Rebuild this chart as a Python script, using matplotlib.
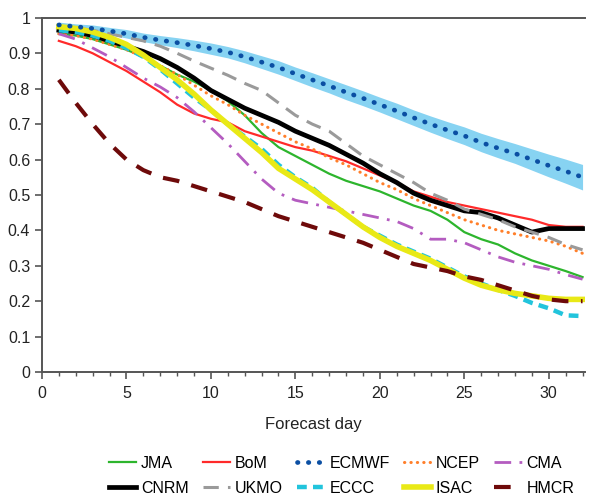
import matplotlib
matplotlib.use("Agg")
import matplotlib.pyplot as plt
import numpy as np
from matplotlib.ticker import MultipleLocator

plt.rcParams["font.family"] = ["Liberation Sans", "DejaVu Sans"]

days = np.arange(1, 33)

jma = [0.955, 0.95, 0.94, 0.925, 0.91, 0.89, 0.865, 0.84, 0.82, 0.795, 0.765, 0.725, 0.675, 0.635, 0.61, 0.585,
       0.56, 0.54, 0.525, 0.51, 0.49, 0.47, 0.455, 0.43, 0.395, 0.375, 0.36, 0.335, 0.315, 0.3, 0.285, 0.268]
bom = [0.935, 0.92, 0.9, 0.875, 0.85, 0.82, 0.79, 0.755, 0.73, 0.715, 0.705, 0.68, 0.665, 0.65, 0.635, 0.625,
       0.61, 0.595, 0.575, 0.555, 0.535, 0.51, 0.495, 0.48, 0.47, 0.46, 0.45, 0.44, 0.43, 0.415, 0.41, 0.41]
ecmwf = [0.98, 0.975, 0.97, 0.963, 0.955, 0.945, 0.937, 0.93, 0.922, 0.913, 0.903, 0.89, 0.875, 0.86, 0.842, 0.825,
         0.808, 0.79, 0.773, 0.755, 0.737, 0.718, 0.70, 0.683, 0.667, 0.648, 0.632, 0.617, 0.60, 0.583, 0.567, 0.55]
ecmwf_spread = [0.008, 0.008, 0.01, 0.01, 0.012, 0.012, 0.013, 0.014, 0.015, 0.016, 0.016, 0.017, 0.018, 0.019,
                0.019, 0.02, 0.02, 0.021, 0.021, 0.021, 0.022, 0.022, 0.023, 0.024, 0.025, 0.026, 0.027, 0.028,
                0.03, 0.032, 0.034, 0.036]
ncep = [0.955, 0.95, 0.94, 0.925, 0.91, 0.89, 0.865, 0.84, 0.81, 0.78, 0.755, 0.725, 0.7, 0.675, 0.65, 0.63,
        0.605, 0.585, 0.56, 0.535, 0.515, 0.49, 0.47, 0.45, 0.43, 0.415, 0.4, 0.39, 0.38, 0.37, 0.355, 0.335]
cma = [0.955, 0.94, 0.915, 0.89, 0.86, 0.83, 0.805, 0.775, 0.735, 0.69, 0.645, 0.595, 0.545, 0.505, 0.485, 0.475,
       0.465, 0.455, 0.445, 0.435, 0.425, 0.405, 0.375, 0.375, 0.365, 0.345, 0.325, 0.31, 0.3, 0.29, 0.275, 0.262]
cnrm = [0.965, 0.96, 0.95, 0.935, 0.92, 0.905, 0.885, 0.86, 0.83, 0.795, 0.77, 0.745, 0.725, 0.705, 0.68, 0.66,
        0.64, 0.615, 0.59, 0.56, 0.535, 0.505, 0.485, 0.47, 0.455, 0.45, 0.435, 0.415, 0.395, 0.405, 0.405, 0.405]
ukmo = [0.975, 0.972, 0.965, 0.955, 0.945, 0.935, 0.92, 0.9, 0.878, 0.858, 0.838, 0.815, 0.795, 0.76, 0.725, 0.7,
        0.68, 0.645, 0.61, 0.585, 0.56, 0.535, 0.505, 0.485, 0.46, 0.445, 0.43, 0.41, 0.395, 0.38, 0.36, 0.345]
eccc = [0.965, 0.96, 0.95, 0.935, 0.915, 0.89, 0.855, 0.815, 0.775, 0.74, 0.70, 0.665, 0.63, 0.585, 0.55, 0.52,
        0.48, 0.445, 0.41, 0.385, 0.36, 0.34, 0.32, 0.295, 0.27, 0.25, 0.232, 0.215, 0.195, 0.18, 0.16, 0.158]
isac = [0.975, 0.97, 0.96, 0.945, 0.925, 0.895, 0.86, 0.825, 0.785, 0.74, 0.70, 0.66, 0.62, 0.575, 0.545, 0.515,
        0.48, 0.445, 0.41, 0.38, 0.355, 0.335, 0.315, 0.29, 0.265, 0.245, 0.232, 0.222, 0.215, 0.208, 0.205, 0.205]
hmcr = [0.825, 0.76, 0.70, 0.645, 0.60, 0.57, 0.55, 0.54, 0.525, 0.51, 0.495, 0.48, 0.46, 0.44, 0.425, 0.41,
        0.395, 0.38, 0.365, 0.345, 0.325, 0.305, 0.295, 0.285, 0.27, 0.26, 0.245, 0.23, 0.215, 0.205, 0.2, 0.2]

fig = plt.figure(figsize=(5.91, 4.96), dpi=100)
ax = fig.add_axes([0.071, 0.25, 0.919, 0.714])

# ECMWF spread band
lo = np.array(ecmwf) - np.array(ecmwf_spread)
hi = np.array(ecmwf) + np.array(ecmwf_spread)
ax.fill_between(days, lo, hi, color="#87d3f2", lw=0, zorder=1)

lines = {}
lines["JMA"] = ax.plot(days, jma, color="#2db52d", lw=1.6, label="JMA")[0]
lines["BoM"] = ax.plot(days, bom, color="#ff2a2a", lw=1.6, label="BoM")[0]
lines["ECMWF"] = ax.plot(days, ecmwf, color="#0b4fa3", lw=3.4, ls=(0, (0.1, 2.2)),
                         dash_capstyle="round", label="ECMWF", zorder=5)[0]
lines["NCEP"] = ax.plot(days, ncep, color="#ff7f2a", lw=2.2, ls=(0, (0.1, 2.0)),
                        dash_capstyle="round", label="NCEP")[0]
lines["CMA"] = ax.plot(days, cma, color="#b45cc0", lw=2.0, ls=(0, (6, 3, 1, 3)), label="CMA")[0]
lines["CNRM"] = ax.plot(days, cnrm, color="black", lw=3.4, label="CNRM")[0]
lines["UKMO"] = ax.plot(days, ukmo, color="#9a9a9a", lw=2.2, ls=(0, (5, 3)), label="UKMO")[0]
lines["ECCC"] = ax.plot(days, eccc, color="#22c4dc", lw=3.2, ls=(0, (2.2, 1.4)), label="ECCC")[0]
lines["ISAC"] = ax.plot(days, isac, color="#e9e916", lw=4.0, label="ISAC")[0]
lines["HMCR"] = ax.plot(days, hmcr, color="#6e0a0a", lw=3.0, ls=(0, (4, 3)), label="HMCR")[0]

ax.set_xlim(0, 32.15)
ax.set_ylim(0, 1)
ax.xaxis.set_major_locator(MultipleLocator(5))
ax.xaxis.set_minor_locator(MultipleLocator(1))
ax.set_yticks(np.arange(0, 1.01, 0.1))
ax.set_yticklabels(["0", "0.1", "0.2", "0.3", "0.4", "0.5", "0.6", "0.7", "0.8", "0.9", "1"])
ax.tick_params(axis="both", which="major", direction="out", length=5, width=1.2,
               color="#555555", labelsize=11.5, labelcolor="#222222")
ax.tick_params(axis="x", which="major", pad=5)
ax.tick_params(axis="x", which="minor", direction="out", length=3, width=1.0, color="#555555")
for side in ["left", "bottom", "top"]:
    ax.spines[side].set_color("#555555")
    ax.spines[side].set_linewidth(1.4)
ax.spines["right"].set_visible(False)
ax.set_xlabel("Forecast day", fontsize=12, color="#222222", labelpad=11.5)

# legend fills column-wise, so interleave the two rows
order = ["JMA", "CNRM", "BoM", "UKMO", "ECMWF", "ECCC", "NCEP", "ISAC", "CMA", "HMCR"]
fig.legend([lines[k] for k in order], order, loc="lower center", bbox_to_anchor=(0.578, -0.028),
           ncol=5, frameon=False, fontsize=11.5, handlelength=1.7, handletextpad=0.3,
           columnspacing=0.9, labelspacing=0.6)

fig.savefig("out.png", dpi=100)
